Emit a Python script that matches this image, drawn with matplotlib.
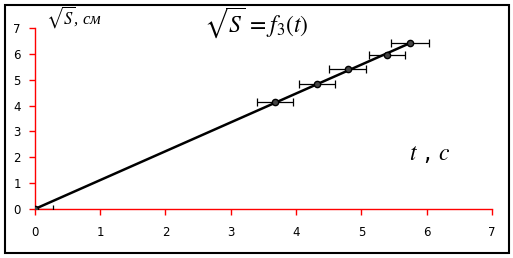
import numpy as np
import matplotlib.pyplot as plt
from matplotlib.patches import Rectangle

# measured points (t, sqrt(S))
t = [0.0, 3.68, 4.32, 4.79, 5.39, 5.74]
sqrt_s = [0.0, 4.13, 4.83, 5.41, 5.95, 6.42]
t_err = [0.28, 0.28, 0.28, 0.28, 0.28, 0.29]
ticks = [0, 1, 2, 3, 4, 5, 6, 7]

plt.rcParams['mathtext.fontset'] = 'stix'

fig = plt.figure(figsize=(5.13, 2.58), dpi=100)
ax = fig.add_axes([0.068, 0.19, 0.891, 0.701])

x = np.array(t)
y = np.array(sqrt_s)
# trend line through the origin
k = np.sum(x * y) / np.sum(x * x)
xl = np.array([0, x.max()])
ax.plot(xl, k * xl, color='black', lw=1.8, zorder=2)

ax.errorbar(t, sqrt_s, xerr=t_err, fmt='o', color='black', ms=4.5,
    mfc='#444444', mec='black', ecolor='black', elinewidth=0.9,
    capsize=3, capthick=0.9, zorder=3)

ax.set_xlim(0, 7)
ax.set_ylim(0, 7)
ax.set_xticks(ticks)
ax.set_yticks(ticks)
for s in ['top', 'right']:
    ax.spines[s].set_visible(False)
for s in ['left', 'bottom']:
    ax.spines[s].set_color('red')
    ax.spines[s].set_linewidth(1.0)
    ax.spines[s].set_zorder(1)
ax.tick_params(colors='red', labelcolor='black', length=4, width=1,
    labelsize=8.5)
ax.tick_params(axis='x', pad=8)
ax.tick_params(axis='y', pad=6)

fig.text(0.5, 0.845, r'$\sqrt{S}\,=f_3(t)$', fontsize=17, ha='center',
    va='bottom')
fig.text(0.145, 0.885, r'$\sqrt{S}$, см', fontsize=12, ha='center',
    va='bottom', family='Liberation Serif', style='italic')
fig.text(0.838, 0.36, r'$t$ , $c$', fontsize=17, ha='center', va='bottom')

fig.patches.append(Rectangle((5 / 513, 5 / 258), 504 / 513, 248 / 258,
    transform=fig.transFigure, fill=False, ec='black', lw=1.5))

fig.savefig('out.png', dpi=100)
